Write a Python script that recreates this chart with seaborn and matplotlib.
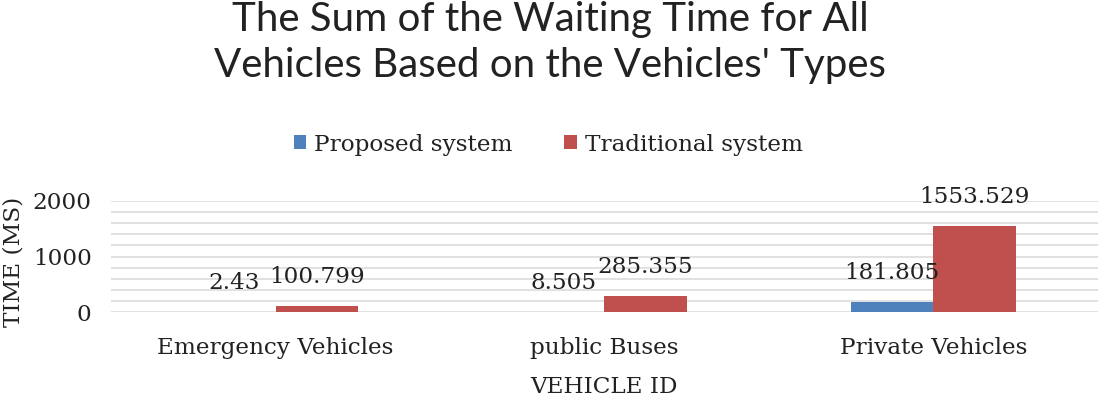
import pandas as pd
import numpy as np
import matplotlib
matplotlib.use("Agg")
import matplotlib.pyplot as plt
import seaborn as sns

# chart data
vehicle_types = ["Emergency Vehicles", "public Buses", "Private Vehicles"]
systems = ["Proposed system", "Traditional system"]
proposed = [2.43, 8.505, 181.805]
traditional = [100.799, 285.355, 1553.529]
label_text = {
    "Proposed system": ["2.43", "8.505", "181.805"],
    "Traditional system": ["100.799", "285.355", "1553.529"],
}

df = pd.DataFrame({
    "VEHICLE ID": vehicle_types * 2,
    "system": [systems[0]] * 3 + [systems[1]] * 3,
    "TIME (MS)": proposed + traditional,
})

sns.set_style("white")
plt.rcParams["font.family"] = ["DejaVu Serif"]
fs = 16.7
txt = "#222222"

fig = plt.figure(figsize=(11, 3.98), dpi=100)
ax = fig.add_axes([0.101, 0.216, 0.897, 0.279])

sns.barplot(data=df, x="VEHICLE ID", y="TIME (MS)", hue="system",
            order=vehicle_types, hue_order=systems,
            palette=["#4F81BD", "#C0504D"], width=0.5, gap=0,
            saturation=1, linewidth=0, ax=ax, legend=True)

ax.set_ylim(0, 2000)
ax.set_yticks([0, 1000, 2000])
ax.set_yticks(np.arange(0, 2001, 200), minor=True)
ax.grid(axis="y", which="both", color="#DCDCDC", linewidth=1.2, zorder=0)
ax.set_axisbelow(True)
for s in ax.spines.values():
    s.set_visible(False)
ax.tick_params(axis="both", which="both", length=0, labelsize=fs, colors=txt)
ax.tick_params(axis="x", pad=18)
ax.tick_params(axis="y", pad=14)

for cont, name in zip(ax.containers, systems):
    ax.bar_label(cont, labels=label_text[name], padding=13,
                 fontsize=fs, color=txt)

ax.set_xlabel("VEHICLE ID", fontsize=fs, color=txt, labelpad=12)
ax.set_ylabel("TIME (MS)", fontsize=fs, color=txt)
ax.yaxis.set_label_coords(-0.088, 0.45)

leg = ax.legend(loc="lower center", bbox_to_anchor=(0.443, 1.22), ncol=2,
                frameon=False, fontsize=fs, handlelength=0.55,
                handleheight=0.55, handletextpad=0.35, columnspacing=2.2)
for t in leg.get_texts():
    t.set_color(txt)

fig.text(0.5, 0.997, "The Sum of the Waiting Time for All\nVehicles Based on the Vehicles' Types",
         fontsize=29, family="Lato", color=txt, ha="center", va="top",
         linespacing=1.3)

fig.savefig("out.png", dpi=100)
